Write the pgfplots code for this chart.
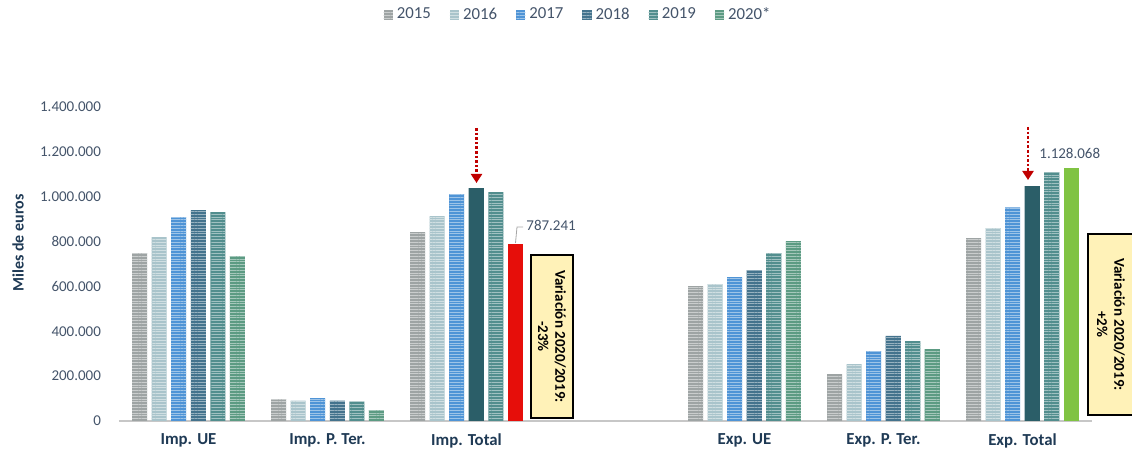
\documentclass[border=0pt]{standalone}
\usepackage{fontspec}
\setmainfont{Carlito}
\usepackage{pgfplots}
\pgfplotsset{compat=1.18}
\usetikzlibrary{patterns.meta,arrows.meta}

\definecolor{c15}{HTML}{9EA4A4}
\definecolor{c16}{HTML}{A9C4CB}
\definecolor{c17}{HTML}{4F94D6}
\definecolor{c18}{HTML}{44738D}
\definecolor{c19}{HTML}{528E8E}
\definecolor{c20}{HTML}{5C9B83}
\definecolor{solid18}{HTML}{2B5E68}
\definecolor{redbar}{HTML}{E60E0A}
\definecolor{greenbar}{HTML}{80C343}
\definecolor{ticktext}{HTML}{44546A}
\definecolor{labtext}{HTML}{1F3A55}
\definecolor{boxfill}{HTML}{FFF2B8}
\definecolor{arrowred}{HTML}{C00000}

\pgfplotsset{
  stripe/.style={fill=#1, draw=none,
    postaction={pattern={Lines[angle=0,distance=1.4pt,line width=0.45pt]},
                pattern color=#1!55!white}},
  solidbar/.style={fill=#1, draw=none},
}

\begin{document}
\begin{tikzpicture}
\begin{axis}[
  at={(59.5pt,17pt)}, anchor=south west,
  scale only axis,
  width=486.5pt, height=157pt,
  xmin=-0.5, xmax=6.5,
  ymin=0, ymax=1400000,
  ybar, bar width=0.108,
  axis x line*=bottom, axis y line*=left,
  y axis line style={draw=none},
  x axis line style={draw=black!22, line width=0.9pt},
  major tick length=0pt,
  xtick={0,1,2,4,5,6},
  xticklabels={Imp. UE, Imp. P. Ter., Imp. Total, Exp. UE, Exp. P. Ter., Exp. Total},
  xticklabel style={font=\fontsize{8.4}{10}\selectfont\bfseries, text=labtext, yshift=-3pt},
  ytick={0,200000,400000,600000,800000,1000000,1200000,1400000},
  scaled y ticks=false,
  yticklabel style={font=\fontsize{7.5}{9}\selectfont, text=ticktext, xshift=-5.5pt,
    /pgf/number format/.cd, fixed, 1000 sep={.}, assume math mode=true},
  ylabel={Miles de euros},
  every axis y label/.style={at={(axis description cs:-0.1038,0.567)}, rotate=90, anchor=center,
    font=\fontsize{8}{9.6}\selectfont\bfseries, text=labtext},
  legend columns=6,
  legend style={at={(axis description cs:0.4728,1.293)}, anchor=center, draw=none, fill=none,
    font=\fontsize{8.4}{10}\selectfont, text=ticktext,
    /tikz/every even column/.append style={column sep=7.5pt}},
  legend image code/.code={\fill[#1] (0pt,-2.3pt) rectangle (4.6pt,2.3pt);},
]
% 2015
\addplot[stripe=c15, bar shift=-0.3508] coordinates {(0,748000) (1,98000) (2,842000) (4,601000) (5,209000) (6,815000)};
\addlegendentry{2015}
% 2016
\addplot[stripe=c16, bar shift=-0.2105] coordinates {(0,820000) (1,91000) (2,913000) (4,610000) (5,254000) (6,860000)};
\addlegendentry{2016}
% 2017
\addplot[stripe=c17, bar shift=-0.0702] coordinates {(0,909000) (1,102000) (2,1011000) (4,641000) (5,312000) (6,953000)};
\addlegendentry{2017}
% 2018
\addplot[stripe=c18, bar shift=0.0702] coordinates {(0,940000) (1,91000) (4,672000) (5,379000)};
\addlegendentry{2018}
% 2019
\addplot[stripe=c19, bar shift=0.2105] coordinates {(0,931000) (1,86000) (2,1020000) (4,748000) (5,356000) (6,1109000)};
\addlegendentry{2019}
% 2020
\addplot[stripe=c20, bar shift=0.3508] coordinates {(0,735000) (1,49000) (4,802000) (5,321000)};
\addlegendentry{2020*}
% highlighted totals
\addplot[solidbar=solid18, bar shift=0.0702, forget plot] coordinates {(2,1038000) (6,1047000)};
\addplot[solidbar=redbar, bar shift=0.3508, forget plot] coordinates {(2,787241)};
\addplot[solidbar=greenbar, bar shift=0.3508, forget plot] coordinates {(6,1128068)};
\end{axis}

\begin{scope}[x=0.5pt, y=-0.5pt, shift={(0pt,227.5pt)}]
  % arrows
  \draw[arrowred, line width=1.1pt, dash pattern=on 1.3pt off 1pt,
        -{Triangle[width=5.5pt,length=4.5pt]}] (476.5,128) -- (476.5,183);
  \draw[arrowred, line width=1.1pt, dash pattern=on 1.3pt off 1pt,
        -{Triangle[width=5.5pt,length=4.5pt]}] (1028,127) -- (1028,180);
  % data labels
  \draw[black!35, line width=0.4pt] (515.5,243) -- (517,227) -- (523,227);
  \node[anchor=west, inner sep=0pt, text=ticktext, font=\fontsize{7.5}{9}\selectfont] at (526,225) {787.241};
  \node[anchor=west, inner sep=0pt, text=ticktext, font=\fontsize{7.5}{9}\selectfont] at (1039,153) {1.128.068};
  % variation boxes
  \draw[fill=boxfill, draw=black, line width=0.6pt] (531,255) rectangle (573,418);
  \node[rotate=-90, align=center, inner sep=0pt, font=\fontsize{7.5}{8.6}\selectfont\bfseries]
    at (552,336.5) {Variación 2020/2019:\\-23\%};
  \draw[fill=boxfill, draw=black, line width=0.6pt] (1088,234) rectangle (1136,415);
  \node[rotate=-90, align=center, inner sep=0pt, font=\fontsize{7.5}{8.6}\selectfont\bfseries]
    at (1111,324.5) {Variación 2020/2019:\\+2\%};
\end{scope}

\pgfresetboundingbox
\useasboundingbox (0pt,0pt) rectangle (566pt,227.5pt);
\end{tikzpicture}
\end{document}
